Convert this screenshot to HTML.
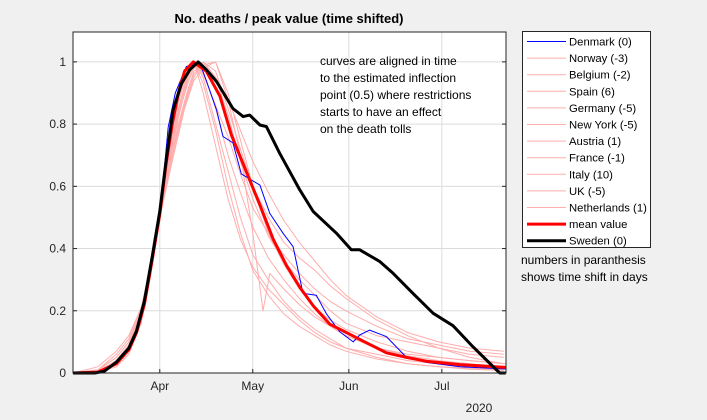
<!DOCTYPE html>
<html><head><meta charset="utf-8"><style>
body{margin:0;background:#f0f0f0;}
svg{display:block;font-family:"Liberation Sans",sans-serif;}
</style></head><body>
<svg id="c" width="707" height="420">
<rect x="0" y="0" width="707" height="420" fill="#f0f0f0"/>
<rect x="73" y="32" width="433" height="341" fill="#fff"/>
<g id="grid"></g>
<g id="series"></g>
<rect x="73" y="32" width="433" height="341" fill="none" stroke="#262626" stroke-width="1"/>
<g id="axes"></g>
<text x="289" y="23" text-anchor="middle" font-size="13" font-weight="bold" fill="#000">No. deaths / peak value (time shifted)</text>
<text font-size="12" fill="#000">
<tspan x="320" y="65">curves are aligned in time</tspan>
<tspan x="320" y="82">to the estimated inflection</tspan>
<tspan x="320" y="99">point (0.5) where restrictions</tspan>
<tspan x="320" y="116">starts to have an effect</tspan>
<tspan x="320" y="133">on the death tolls</tspan>
</text>
<text x="479" y="412" text-anchor="middle" font-size="12" fill="#262626">2020</text>
<rect x="522.5" y="31.5" width="128" height="216" fill="#fff" stroke="#262626" stroke-width="1"/>
<g id="legend"></g>
<text font-size="12" fill="#000">
<tspan x="521" y="264">numbers in paranthesis</tspan>
<tspan x="521" y="281">shows time shift in days</tspan>
</text>
</svg>
<script>
// Days relative to Apr 1
const D=[-28,-20,-14,-10,-6,-3,0,3,6,9,11,14,18,22,26,30,35,40,45,50,55,60,70,80,90,100,111];
const swedenDays=[-28,-21,-18,-14,-10,-7.5,-5,-2.5,0,2,4.3,7,9.7,12.4,15,18.3,23.6,26.9,29,32.3,34.4,38.7,45.2,49.5,57,61.8,64.5,71,75.3,81.7,88.2,94.6,101,107.5,109.7,111.6];
const swedenVals=[0,0,0.005,0.035,0.08,0.135,0.23,0.37,0.52,0.68,0.846,0.93,0.975,1.0,0.975,0.937,0.85,0.824,0.829,0.797,0.792,0.706,0.588,0.519,0.449,0.396,0.396,0.358,0.32,0.256,0.192,0.152,0.085,0.021,0,0];
const meanDays=[-28,-20,-14,-10,-7.5,-5,-2.5,0,2,4,6,8,10.8,15,19.4,23.1,27.9,32.3,36.6,40.9,45.2,49.5,54.9,60.2,66.7,73.1,79.6,86,96.8,111.6];
const meanVals=[0,0.003,0.03,0.075,0.13,0.22,0.36,0.51,0.67,0.8,0.9,0.97,1.0,0.97,0.89,0.765,0.647,0.54,0.43,0.345,0.275,0.216,0.157,0.13,0.097,0.065,0.05,0.038,0.027,0.018];
const denDays=[-28,-20,-14,-10,-7.5,-5,-2.5,0,2.7,5,8.6,12.9,15,18.3,20.4,23.6,26.3,32.3,35.5,39.8,43,46.2,50.5,53.8,58,62.4,64.5,67.7,73.1,79.6,86,96.8,111.6];
const denVals=[0,0.002,0.03,0.07,0.13,0.22,0.36,0.5,0.79,0.9,0.985,0.995,0.94,0.846,0.76,0.74,0.64,0.604,0.513,0.449,0.406,0.256,0.25,0.19,0.133,0.1,0.122,0.138,0.117,0.05,0.034,0.02,0.013];
const pinkVals=[
[0,0.005,0.04,0.09,0.2,0.34,0.5,0.68,0.83,0.93,0.98,1.0,0.95,0.88,0.78,0.68,0.58,0.49,0.42,0.36,0.3,0.25,0.18,0.13,0.1,0.08,0.07],
[0,0.01,0.05,0.1,0.2,0.33,0.5,0.66,0.8,0.91,0.97,0.99,1.0,0.9,0.75,0.6,0.5,0.42,0.37,0.33,0.28,0.24,0.17,0.12,0.08,0.05,0.03],
[0,0.005,0.03,0.08,0.18,0.33,0.5,0.69,0.85,0.96,1,0.95,0.8,0.65,0.5,0.38,0.3,0.23,0.18,0.14,0.11,0.08,0.05,0.03,0.02,0.015,0.01],
[0,0.02,0.07,0.12,0.21,0.34,0.5,0.65,0.79,0.9,0.96,1.0,0.97,0.85,0.72,0.6,0.45,0.35,0.27,0.21,0.17,0.14,0.1,0.07,0.05,0.04,0.03],
[0,0.003,0.03,0.07,0.17,0.32,0.5,0.7,0.87,0.97,1.0,0.93,0.78,0.6,0.45,0.33,0.25,0.19,0.15,0.12,0.09,0.07,0.045,0.03,0.02,0.012,0.008],
[0,0.004,0.04,0.09,0.19,0.33,0.5,0.67,0.82,0.94,0.99,0.97,0.85,0.7,0.58,0.47,0.37,0.3,0.24,0.19,0.15,0.12,0.08,0.055,0.04,0.03,0.02],
[0,0.01,0.05,0.1,0.2,0.34,0.5,0.65,0.78,0.89,0.95,1.0,0.95,0.83,0.68,0.56,0.44,0.36,0.3,0.25,0.2,0.16,0.12,0.1,0.08,0.06,0.05],
[0,0.002,0.02,0.06,0.16,0.31,0.5,0.71,0.88,0.98,1.0,0.9,0.73,0.56,0.43,0.34,0.27,0.22,0.17,0.13,0.1,0.08,0.06,0.04,0.03,0.02,0.015],
[0,0.006,0.04,0.09,0.19,0.33,0.5,0.68,0.84,0.95,1.0,0.96,0.86,0.76,0.64,0.53,0.45,0.38,0.32,0.27,0.23,0.2,0.15,0.11,0.09,0.07,0.06]
];
const spainDays=[-28,-20,-14,-10,-6,-3,0,4,8,11,14,18,22,26,30,33.3,35.5,40,45,50,55,60,70,80,90,100,111.6];
const spainVals=[0,0.01,0.06,0.11,0.21,0.34,0.5,0.68,0.85,0.94,0.98,1.0,0.88,0.7,0.45,0.2,0.32,0.27,0.22,0.18,0.15,0.12,0.08,0.06,0.05,0.04,0.03];
const yTicks=[0,0.2,0.4,0.6,0.8,1];
const yTickLabels=["0","0.2","0.4","0.6","0.8","1"];
const xTicks=[0,30,61,91];
const xTickLabels=["Apr","May","Jun","Jul"];
const legendLabels=["Denmark (0)","Norway (-3)","Belgium (-2)","Spain (6)","Germany (-5)","New York (-5)","Austria (1)","France (-1)","Italy (10)","UK (-5)","Netherlands (1)","mean value","Sweden (0)"];

const NS="http://www.w3.org/2000/svg";
const X0=73,X1=506,Y0=373,Y1=32,DMIN=-28,DMAX=111.7,VMAX=1.096;
function xs(d){return X0+(d-DMIN)/(DMAX-DMIN)*(X1-X0);}
function ys(v){return Y0-v/VMAX*(Y0-Y1);}
function mk(tag,attrs,parent){const e=document.createElementNS(NS,tag);for(const k in attrs)e.setAttribute(k,attrs[k]);parent.appendChild(e);return e;}
const grid=document.getElementById('grid'),axes=document.getElementById('axes'),ser=document.getElementById('series'),leg=document.getElementById('legend');
yTicks.forEach((v,i)=>{
  const g=mk('line',{x1:X0,x2:X1,y1:ys(v),y2:ys(v),stroke:'#dcdcdc','stroke-width':1},grid);
  
  
  const t=mk('line',{x1:X0,x2:X0+4,y1:ys(v),y2:ys(v),stroke:'#262626'},axes);
  
  
  const t2=mk('line',{x1:X1-4,x2:X1,y1:ys(v),y2:ys(v),stroke:'#262626'},axes);
  
  
  const l=mk('text',{x:X0-7,y:ys(v)+4,'text-anchor':'end','font-size':12,fill:'#262626'},axes);
  l.textContent=yTickLabels[i];
  
  
});
xTicks.forEach((d,i)=>{
  const g=mk('line',{x1:xs(d),x2:xs(d),y1:Y1,y2:Y0,stroke:'#dcdcdc','stroke-width':1},grid);
  
  
  const t=mk('line',{x1:xs(d),x2:xs(d),y1:Y0-4,y2:Y0,stroke:'#262626'},axes);
  
  
  const l=mk('text',{x:xs(d),y:Y0+17,'text-anchor':'middle','font-size':12,fill:'#262626'},axes);
  l.textContent=xTickLabels[i];
  
  
});
function line(days,vals,color,w,name){
  const p=days.map((d,i)=>xs(d).toFixed(1)+','+ys(vals[i]).toFixed(1)).join(' ');
  const e=mk('polyline',{points:p,fill:'none',stroke:color,'stroke-width':w,'stroke-linejoin':'round'},ser);
  
  
}
pinkVals.forEach((v,i)=>line(D,v,'#ffadad',1,'country-line'));
line(spainDays,spainVals,'#ffadad',1,'spain-line');
line(denDays,denVals,'#0000ff',1,'denmark-line');
line(meanDays,meanVals,'#ff0000',3,'mean-line');
line(swedenDays,swedenVals,'#000000',3,'sweden-line');
legendLabels.forEach((lab,i)=>{
  const y=41.5+i*16.6;
  let c='#ffadad',w=1;
  if(i==0)c='#0000ff';
  if(i==11){c='#ff0000';w=3;}
  if(i==12){c='#000000';w=3;}
  const s=mk('line',{x1:527,x2:566,y1:y,y2:y,stroke:c,'stroke-width':w},leg);
  
  
  const t=mk('text',{x:569,y:y+4,'font-size':11.3,fill:'#000'},leg);
  t.textContent=lab;
  
  
});
</script>
</body></html>
